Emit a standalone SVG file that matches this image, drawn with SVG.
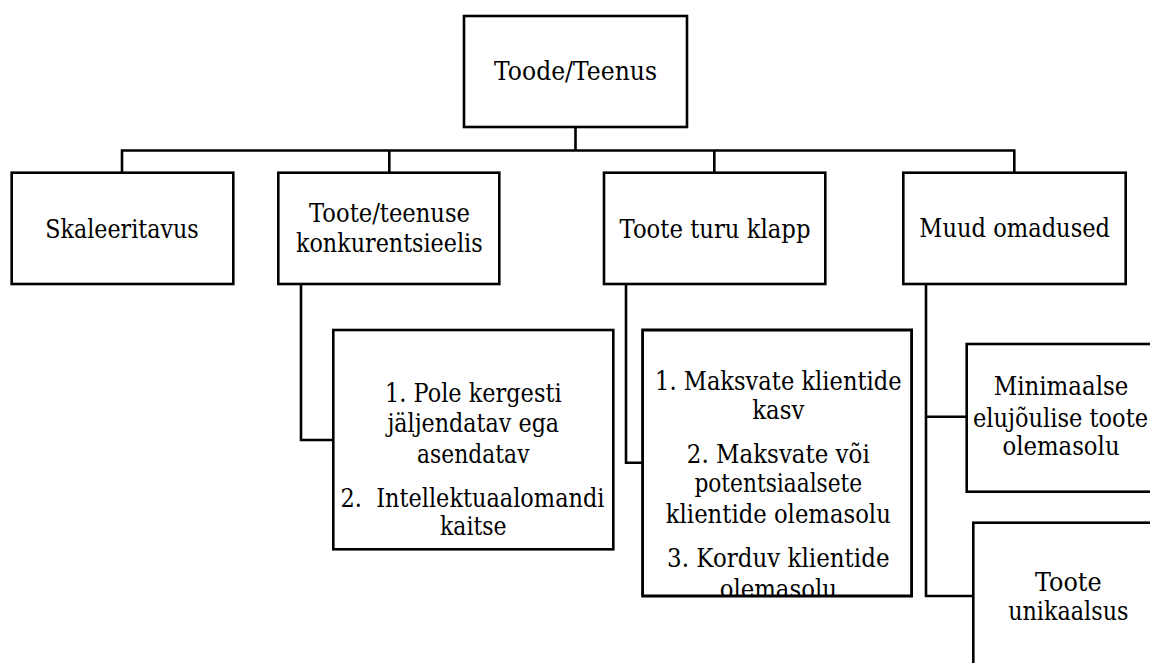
<svg xmlns="http://www.w3.org/2000/svg" width="1150" height="663" viewBox="0 0 1150 663">
<style>
.box{fill:#fff;stroke:#000;stroke-width:2.6}
.ln{fill:none;stroke:#000;stroke-width:2.6}
.t{font-family:'DejaVu Serif','Liberation Serif',serif;font-size:26px;fill:#000;text-anchor:middle}
</style>
<defs>
<clipPath id="clip3"><rect x="642.7" y="330" width="269" height="266"/></clipPath>
<clipPath id="clipv"><rect x="0" y="0" width="1150" height="663"/></clipPath>
</defs>
<rect width="1150" height="663" fill="#fff"/>
<g id="connectors">
<path class="ln" d="M575.5 127V150.5M122 172.5V150.5H1014.3V172.5M389.3 150.5V172.5M714.3 150.5V172.5"/>
<path class="ln" d="M301 284V440H333.3"/>
<path class="ln" d="M626 284V462.7H642.7"/>
<path class="ln" d="M926 284V596H973.3M926 416.7H966.7"/>
</g>
<g id="root">
<rect class="box" x="464" y="16" width="223" height="111"/>
<text class="t" x="575.5" y="80" textLength="163" lengthAdjust="spacingAndGlyphs">Toode/Teenus</text>
</g>
<g id="skaleeritavus">
<rect class="box" x="11.7" y="172.7" width="221.6" height="111.3"/>
<text class="t" x="122" y="238" textLength="153.5" lengthAdjust="spacingAndGlyphs">Skaleeritavus</text>
</g>
<g id="konkurentsieelis">
<rect class="box" x="278.3" y="172.7" width="221" height="111.3"/>
<text class="t" x="389.5" y="221.7" textLength="161" lengthAdjust="spacingAndGlyphs">Toote/teenuse</text>
<text class="t" x="389.3" y="251.7" textLength="186.7" lengthAdjust="spacingAndGlyphs">konkurentsieelis</text>
</g>
<g id="turu-klapp">
<rect class="box" x="604" y="172.7" width="221.3" height="111.3"/>
<text class="t" x="715" y="237.7" textLength="191" lengthAdjust="spacingAndGlyphs">Toote turu klapp</text>
</g>
<g id="muud-omadused">
<rect class="box" x="903.3" y="172.7" width="222.4" height="111.3"/>
<text class="t" x="1014.7" y="236.7" textLength="190.7" lengthAdjust="spacingAndGlyphs">Muud omadused</text>
</g>
<g id="konkurentsieelis-details">
<rect class="box" x="333.3" y="330" width="280" height="219.3"/>
<text class="t" x="473.3" y="401.7" textLength="176.5" lengthAdjust="spacingAndGlyphs">1. Pole kergesti</text>
<text class="t" x="473.3" y="431.7" textLength="171.7" lengthAdjust="spacingAndGlyphs">jäljendatav ega</text>
<text class="t" x="473.3" y="462.7" textLength="112.4" lengthAdjust="spacingAndGlyphs">asendatav</text>
<text class="t" x="472.5" y="506.7" xml:space="preserve" textLength="264" lengthAdjust="spacingAndGlyphs">2.  Intellektuaalomandi</text>
<text class="t" x="473.3" y="535" textLength="66.5" lengthAdjust="spacingAndGlyphs">kaitse</text>
</g>
<g id="turu-klapp-details">
<rect class="box" x="642.7" y="330" width="269" height="266"/>
<g clip-path="url(#clip3)">
<text class="t" x="778.3" y="390" textLength="246.5" lengthAdjust="spacingAndGlyphs">1. Maksvate klientide</text>
<text class="t" x="778.3" y="419.3" textLength="52.2" lengthAdjust="spacingAndGlyphs">kasv</text>
<text class="t" x="778.3" y="462.7" textLength="182.9" lengthAdjust="spacingAndGlyphs">2. Maksvate või</text>
<text class="t" x="778.3" y="491.7" textLength="167.8" lengthAdjust="spacingAndGlyphs">potentsiaalsete</text>
<text class="t" x="778.3" y="522.7" textLength="225" lengthAdjust="spacingAndGlyphs">klientide olemasolu</text>
<text class="t" x="778.3" y="566.7" textLength="222.4" lengthAdjust="spacingAndGlyphs">3. Korduv klientide</text>
<text class="t" x="778.3" y="598" textLength="117.2" lengthAdjust="spacingAndGlyphs">olemasolu</text>
</g>
<rect x="642.7" y="330" width="269" height="266" fill="none" stroke="#000" stroke-width="2.6"/>
</g>
<g id="mvp">
<rect class="box" x="966.7" y="344" width="200" height="147.7"/>
<text class="t" x="1061" y="395" textLength="134.6" lengthAdjust="spacingAndGlyphs">Minimaalse</text>
<text class="t" x="1060.5" y="426.7" textLength="175" lengthAdjust="spacingAndGlyphs">elujõulise toote</text>
<text class="t" x="1061" y="455" textLength="117.2" lengthAdjust="spacingAndGlyphs">olemasolu</text>
</g>
<g id="unikaalsus">
<rect class="box" x="973.3" y="522.7" width="200" height="160"/>
<text class="t" x="1068.3" y="590.7" textLength="66.5" lengthAdjust="spacingAndGlyphs">Toote</text>
<text class="t" x="1068.3" y="620" textLength="120.3" lengthAdjust="spacingAndGlyphs">unikaalsus</text>
</g>
</svg>
